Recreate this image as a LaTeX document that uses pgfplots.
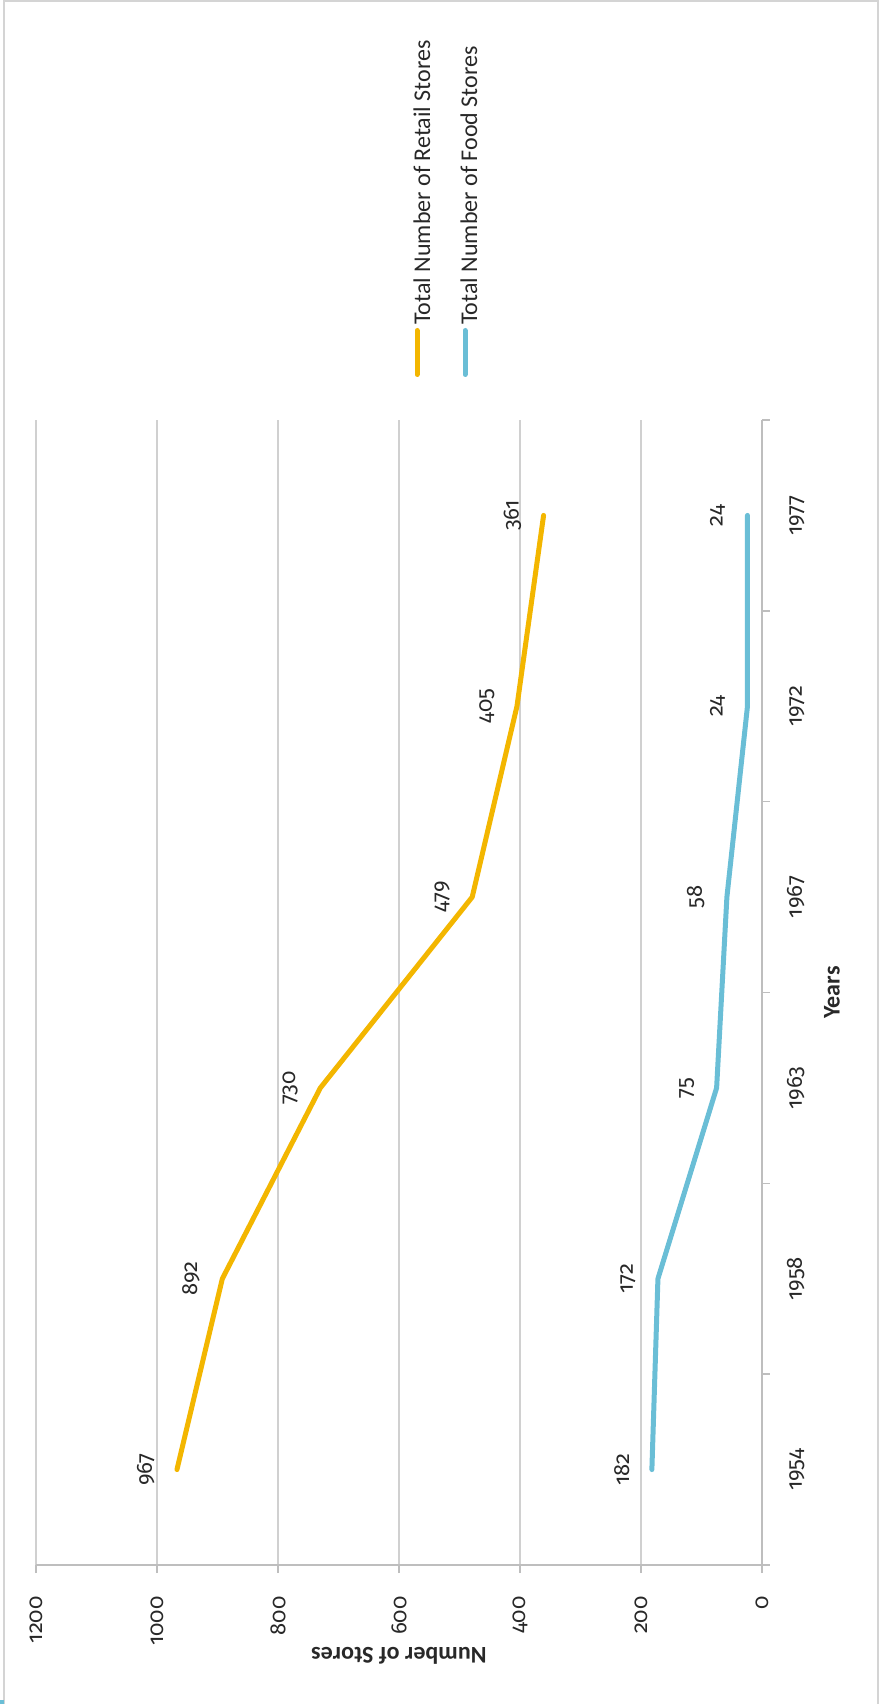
\documentclass[border=0pt]{standalone}
\usepackage{fontspec}
\setmainfont{Carlito}
\newfontfamily\numfont{Fira Sans}[Numbers={OldStyle,Proportional}]
\usepackage{pgfplots}
\pgfplotsset{compat=1.18}
\definecolor{retail}{RGB}{243,182,0}
\definecolor{food}{RGB}{106,190,214}
\definecolor{gridgray}{RGB}{208,208,208}
\definecolor{axisgray}{RGB}{190,190,190}
\definecolor{framegray}{RGB}{212,212,212}
\definecolor{txt}{RGB}{40,40,40}

\begin{document}
\fontsize{12}{14.4}\selectfont
\begin{tikzpicture}
\useasboundingbox (-18pt,-69.5pt) rectangle (423pt,782.5pt);
\draw[framegray, line width=0.85pt] (-16pt,-80pt) rectangle (421pt,782pt);
\fill[food] (-18pt,-69.5pt) rectangle (-16pt,-67.5pt);
\begin{axis}[
    scale only axis,
    width=363pt, height=572.5pt,
    x dir=reverse,
    xmin=0, xmax=1200,
    ymin=-0.5, ymax=5.5,
    xtick={0,200,...,1200},
    ytick={-0.5,0.5,...,5.5},
    yticklabels={},
    extra y ticks={0,1,2,3,4,5},
    extra y tick labels={1954,1958,1963,1967,1972,1977},
    extra y tick style={major tick length=0pt},
    separate axis lines,
    axis x line*=bottom,
    axis y line*=right,
    axis line style={axisgray, line width=0.75pt},
    tick align=outside,
    major tick length=4pt,
    tick style={axisgray, line width=0.75pt},
    xmajorgrids,
    major x grid style={gridgray, line width=0.75pt},
    /pgf/number format/assume math mode=true,
    /pgf/number format/1000 sep={},
    tick label style={txt, font=\numfont\fontsize{11}{13}\selectfont},
    x tick label style={rotate=90, anchor=east},
    xticklabel shift=7.5pt,
    y tick label style={rotate=90, anchor=base},
    yticklabel shift=20pt,
    xlabel={Number of Stores},
    ylabel={Years},
    every axis x label/.style={at={(axis description cs:0.5,-0.0795)}, anchor=center, rotate=180, font=\bfseries, txt},
    every axis y label/.style={at={(axis description cs:1.0964,0.5)}, anchor=center, rotate=90, font=\bfseries, txt},
    clip=false,
]
\addplot[retail, line width=2.5pt, line cap=round, line join=round,
    point meta=x, nodes near coords,
    nodes near coords style={txt, font=\numfont\fontsize{11}{13}\selectfont, rotate=90, anchor=south, inner ysep=10pt}]
    coordinates {(967,0) (892,1) (730,2) (479,3) (405,4) (361,5)};
\addplot[food, line width=2.5pt, line cap=round, line join=round,
    point meta=x, nodes near coords,
    nodes near coords style={txt, font=\numfont\fontsize{11}{13}\selectfont, rotate=90, anchor=south, inner ysep=10pt}]
    coordinates {(182,0) (172,1) (75,2) (58,3) (24,4) (24,5)};
\end{axis}
% legend, turned like the rest of the chart
\draw[retail, line width=2.5pt, line cap=round] (190.5pt,595.25pt) -- (190.5pt,617.25pt);
\node[rotate=90, anchor=base west, inner sep=0pt, txt] at (197pt,620pt) {Total Number of Retail Stores};
\draw[food, line width=2.5pt, line cap=round] (214.5pt,595.25pt) -- (214.5pt,617.25pt);
\node[rotate=90, anchor=base west, inner sep=0pt, txt] at (220.5pt,620pt) {Total Number of Food Stores};
\end{tikzpicture}
\end{document}
